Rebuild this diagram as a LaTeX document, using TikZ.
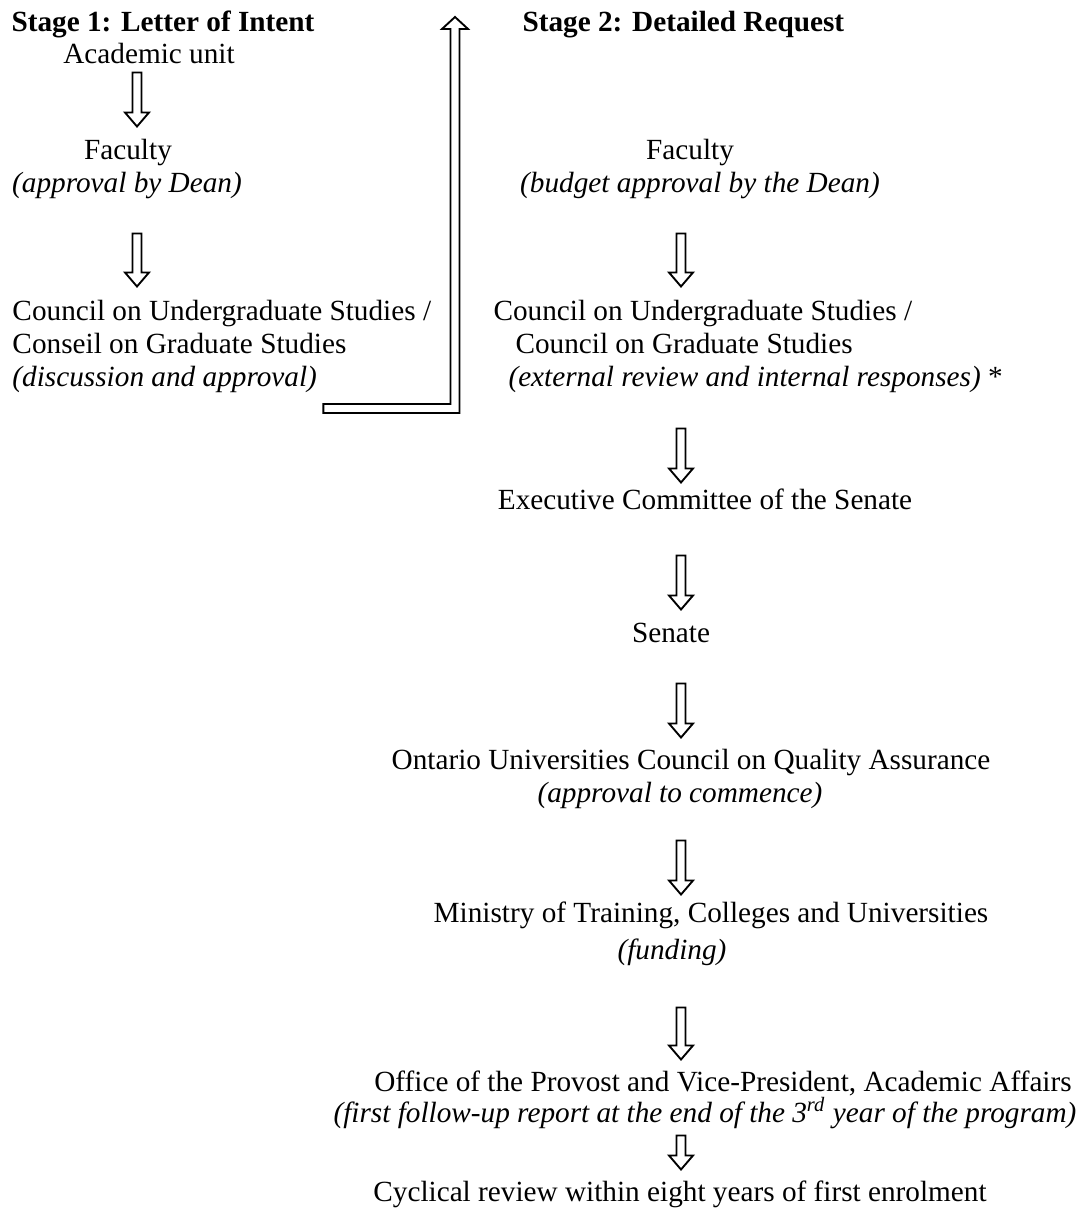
\documentclass[tikz,border=0pt]{standalone}
\usepackage{fontspec}
\setmainfont{Liberation Serif}
\usepackage{tikz}
\usetikzlibrary{calc}

\tikzset{
  txt/.style={inner sep=0pt, text height=8pt, text depth=2.6pt, font=\fontsize{11.7}{13.2}\selectfont},
  note/.style={txt, font=\fontsize{11.7}{13.2}\selectfont\itshape},
  stagehead/.style={txt, font=\fontsize{11.7}{13.2}\selectfont\bfseries},
  % hollow down arrow: #1 gap below start, #2 gap above target
  hollow/.style 2 args={line width=0.75pt, line join=miter, to path={
    ($(\tikztostart)+(-4.5,#1)$) -- ($(\tikztotarget)+(-4.5,-14-#2)$)
    -- ($(\tikztotarget)+(-12,-14-#2)$) -- ($(\tikztotarget)+(0,-#2)$)
    -- ($(\tikztotarget)+(12,-14-#2)$) -- ($(\tikztotarget)+(4.5,-14-#2)$)
    -- ($(\tikztostart)+(4.5,#1)$) -- cycle}},
  % hollow elbow: right, then up to the tip
  hollowup/.style={line width=0.75pt, line join=miter, to path={
    ($(\tikztostart)+(0,-4.5)$) -- ($(\tikztostart -| \tikztotarget)+(-4.5,-4.5)$)
    -- ($(\tikztotarget)+(-4.5,12)$) -- ($(\tikztotarget)+(-13,12)$) -- (\tikztotarget)
    -- ($(\tikztotarget)+(13,12)$) -- ($(\tikztotarget)+(4.5,12)$)
    -- ($(\tikztostart -| \tikztotarget)+(4.5,4.5)$) -- ($(\tikztostart)+(0,4.5)$) -- cycle}}
}

\begin{document}
\begin{tikzpicture}[x=0.4pt, y=-0.4pt]
  \useasboundingbox (0,0) rectangle (1077,1224);
  \coordinate (colL) at (137,0);
  \coordinate (colR) at (681,0);

  % Stage 1
  \node[stagehead, anchor=base west] (title1) at (11,31.5) {Stage 1: Letter of Intent};
  \node[txt, anchor=base] (acad) at (149,63.5) {Academic unit};
  \node[txt, anchor=base] (fac1) at (128,159.5) {Faculty};
  \node[note, anchor=base] (fac1n) at (127,192.5) {(approval by Dean)};
  \node[txt, anchor=base west] (cusA1) at (12,320.5) {Council on Undergraduate Studies /};
  \node[txt, anchor=base west] (cusA2) at (12,353.5) {Conseil on Graduate Studies};
  \node[note, anchor=base west] (cusA3) at (12,386.5) {(discussion and approval)};

  \draw[hollow={2}{12.5}] (acad.south -| colL) to (fac1.north -| colL);
  \draw[hollow={34}{13.5}] (fac1n.south -| colL) to (cusA1.north -| colL);

  \coordinate (loopStart) at ($(cusA3.south east)+(6,15)$);
  \coordinate (loopEnd) at (455,17);
  \draw[hollowup] (loopStart) to (loopEnd);

  % Stage 2
  \node[stagehead, anchor=base west] (title2) at (522,31.5) {Stage 2: Detailed Request};
  \node[txt, anchor=base] (fac2) at (690,159.5) {Faculty};
  \node[note, anchor=base] (fac2n) at (700,192.5) {(budget approval by the Dean)};
  \node[txt, anchor=base west] (cusB1) at (493,320.5) {Council on Undergraduate Studies /};
  \node[txt, anchor=base west] (cusB2) at (515,353.5) {Council on Graduate Studies};
  \node[txt, anchor=base west] (cusB3) at (508,386.5) {\textit{(external review and internal responses)} *};
  \node[txt, anchor=base] (exec) at (705,509.5) {Executive Committee of the Senate};
  \node[txt, anchor=base] (senate) at (671,642.5) {Senate};
  \node[txt, anchor=base] (oucqa) at (691,769.5) {Ontario Universities Council on Quality Assurance};
  \node[note, anchor=base] (oucqan) at (680,802.5) {(approval to commence)};
  \node[txt, anchor=base] (mtcu) at (711,922.5) {Ministry of Training, Colleges and Universities};
  \node[note, anchor=base] (mtcun) at (672,959.5) {(funding)};
  \node[txt, anchor=base] (provost) at (723,1091.5) {Office of the Provost and Vice-President, Academic Affairs};
  \node[note, anchor=base] (provostn) at (705,1122.5) {(first follow-up report at the end of the 3\textsuperscript{rd} year of the program)};
  \node[txt, anchor=base] (cyclic) at (680,1201.5) {Cyclical review within eight years of first enrolment};

  \foreach \a/\b/\s/\e in {fac2n/cusB1/34/13.5, cusB3/exec/35/6.5, exec/senate/39/12.5,
      senate/oucqa/34/11.5, oucqan/mtcu/31/7.5, mtcun/provost/41/11.5, provostn/cyclic/6/11.5}
    \draw[hollow={\s}{\e}] (\a.south -| colR) to (\b.north -| colR);
\end{tikzpicture}
\end{document}
